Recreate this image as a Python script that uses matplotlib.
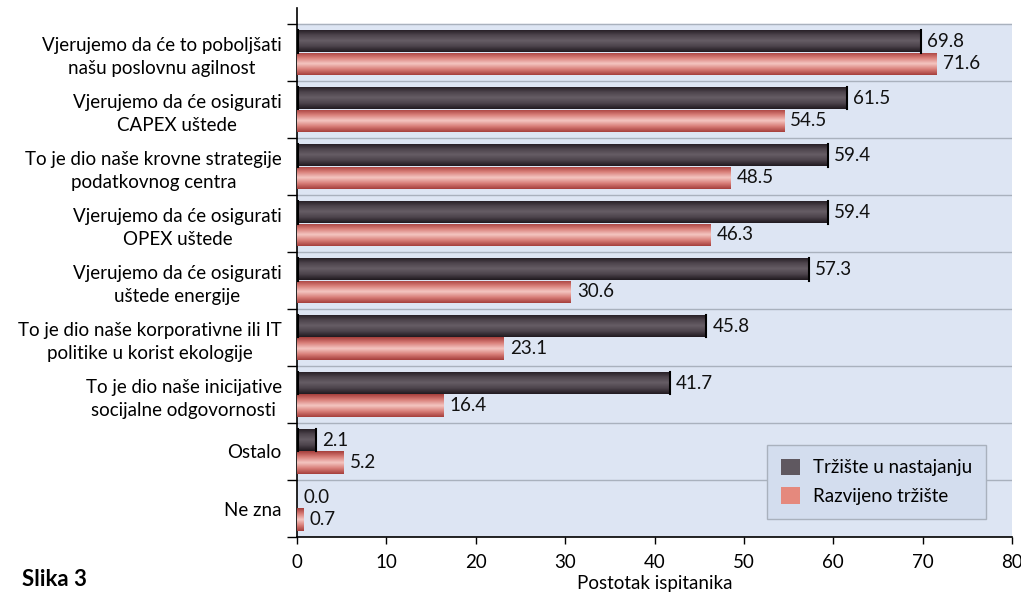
import numpy as np
import matplotlib
matplotlib.use("Agg")
import matplotlib.pyplot as plt
from matplotlib.patches import Patch
from matplotlib.colors import LinearSegmentedColormap

plt.rcParams['font.family'] = ['Lato', 'DejaVu Sans']

categories = [
    "Vjerujemo da će to poboljšati\nnašu poslovnu agilnost",
    "Vjerujemo da će osigurati\nCAPEX uštede",
    "To je dio naše krovne strategije\npodatkovnog centra",
    "Vjerujemo da će osigurati\nOPEX uštede",
    "Vjerujemo da će osigurati\nuštede energije",
    "To je dio naše korporativne ili IT\npolitike u korist ekologije",
    "To je dio naše inicijative\nsocijalne odgovornosti",
    "Ostalo",
    "Ne zna",
]
emerging = [69.8, 61.5, 59.4, 59.4, 57.3, 45.8, 41.7, 2.1, 0.0]
developed = [71.6, 54.5, 48.5, 46.3, 30.6, 23.1, 16.4, 5.2, 0.7]
series_names = ["Tržište u nastajanju", "Razvijeno tržište"]
xticks = [0, 10, 20, 30, 40, 50, 60, 70, 80]

FS = 13.5
BG = "#dde5f3"
dark_cmap = LinearSegmentedColormap.from_list("dark", ["#211a20", "#4c434b", "#665d65", "#4c434b", "#211a20"])
pink_cmap = LinearSegmentedColormap.from_list("pink", ["#a53f3c", "#d97f79", "#f4c6c2", "#d97f79", "#a53f3c"])

fig = plt.figure(figsize=(10.21, 5.98), dpi=100)
ax = fig.add_axes([297 / 1021, 1 - 537 / 598, 715 / 1021, 529 / 598])

n = len(categories)
y = np.arange(n)
h = 0.39

ax.axhspan(-0.5, n - 0.5, color=BG, zorder=0)
for b in np.arange(-0.5, n, 1.0):
    ax.axhline(b, color="#a9b1bd", lw=1, zorder=1)

grad = np.linspace(0, 1, 64).reshape(-1, 1)
bars_e = ax.barh(y - h / 2, emerging, height=h, color="none", zorder=2)
bars_d = ax.barh(y + h / 2, developed, height=h, color="none", zorder=2)
for bars, cmap in [(bars_e, dark_cmap), (bars_d, pink_cmap)]:
    for p in bars:
        x0, y0 = p.get_x(), p.get_y()
        w, hh = p.get_width(), p.get_height()
        if w <= 0:
            continue
        im = ax.imshow(grad, cmap=cmap, aspect="auto", extent=[x0, x0 + w, y0 + hh, y0],
                       zorder=3, interpolation="bilinear")
        im.set_clip_path(p)

# dark edges at both ends of the emerging-market bars
for p in bars_e:
    if p.get_width() > 0:
        for xe in (p.get_x() + 0.15, p.get_width()):
            ax.plot([xe] * 2, [p.get_y(), p.get_y() + p.get_height()],
                    color="black", lw=1.5, zorder=4)

for vals, off in [(emerging, -h / 2), (developed, h / 2)]:
    for i, v in enumerate(vals):
        ax.text(v + 0.7, i + off, f"{v:.1f}", va="center", ha="left", fontsize=FS, color="#111111", zorder=5)

ax.set_xlim(0, 80)
ax.set_ylim(n - 0.5, -0.5 - 16 / 57)
ax.set_facecolor("white")

ax.set_xticks(xticks)
ax.set_xticklabels([str(t) for t in xticks], fontsize=FS)
ax.tick_params(axis="x", length=5, width=1, pad=7)

ax.set_yticks(np.arange(-0.5, n, 1.0))
ax.set_yticklabels([])
ax.set_yticks(y, minor=True)
ax.set_yticklabels(categories, minor=True, fontsize=FS, ha="right", multialignment="center",
                   linespacing=1.4)
ax.tick_params(axis="y", which="major", length=7, width=1)
ax.tick_params(axis="y", which="minor", length=0, pad=11)

for s in ["top", "right"]:
    ax.spines[s].set_visible(False)
ax.spines["left"].set_linewidth(1.2)
ax.spines["bottom"].set_linewidth(1.2)

ax.set_xlabel("Postotak ispitanika", fontsize=FS, labelpad=3)

handles = [Patch(facecolor="#5f5860", edgecolor="none"), Patch(facecolor="#e5897d", edgecolor="none")]
leg = ax.legend(handles, series_names, loc="lower right", bbox_to_anchor=(0.977, 0.017),
                fontsize=FS, frameon=True, fancybox=False, handlelength=1.0, handleheight=1.0,
                labelspacing=0.55, borderpad=0.75, handletextpad=0.7)
leg.get_frame().set_facecolor("#d3ddee")
leg.get_frame().set_edgecolor("#a9b1bd")
leg.get_frame().set_alpha(1)

fig.text(22 / 1021, 1 - 580 / 598, "Slika 3", fontsize=16, fontweight="bold", va="center")

fig.savefig("out.png", dpi=100)
